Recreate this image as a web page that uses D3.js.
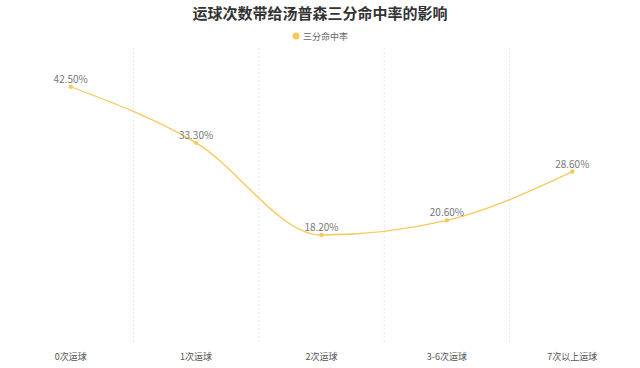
<!DOCTYPE html>
<html>
<head>
<meta charset="utf-8">
<script src="https://cdn.jsdelivr.net/npm/d3@7/dist/d3.min.js"></script>
<style>
  body { margin: 0; background: #fff; }
  svg { display: block; font-family: "Noto Sans CJK SC", "Noto Sans", sans-serif; }
</style>
</head>
<body>
<script>
"use strict";

// data
var categories = ["0次运球", "1次运球", "2次运球", "3-6次运球", "7次以上运球"];
var rates = [42.5, 33.3, 18.2, 20.6, 28.6];
var seriesName = "三分命中率";
var title = "运球次数带给汤普森三分命中率的影响";

var width = 640, height = 368;
var margin = {top: 41, right: 5, bottom: 22, left: 8};
var gridTop = 48, gridBottom = 344;
var lineColor = "#f7c95c";

var svg = d3.select("body").append("svg")
    .attr("width", width)
    .attr("height", height);

var x = d3.scaleBand()
    .domain(categories)
    .range([margin.left, width - margin.right]);

var y = d3.scaleLinear()
    .domain([0, 50])
    .range([height - margin.bottom, margin.top]);

// title
svg.append("text")
    .attr("x", width / 2)
    .attr("y", 19)
    .attr("text-anchor", "middle")
    .attr("font-size", 15)
    .attr("font-weight", "bold")
    .attr("fill", "#333")
    .text(title);

// legend
var lg = svg.append("g").attr("transform", "translate(296,36)");
lg.append("circle").attr("r", 3.5).attr("fill", lineColor);
lg.append("text")
    .attr("x", 7).attr("y", 3.5)
    .attr("font-size", 9)
    .attr("fill", "#666")
    .text(seriesName);

// vertical dashed grid lines between categories
svg.append("g")
  .selectAll("line")
  .data(categories.slice(1))
  .enter().append("line")
    .attr("x1", d => x(d))
    .attr("x2", d => x(d))
    .attr("y1", gridTop)
    .attr("y2", gridBottom)
    .attr("stroke", "#e8e8e8")
    .attr("stroke-dasharray", "2,2");

// x axis labels
svg.append("g")
  .selectAll("text")
  .data(categories)
  .enter().append("text")
    .attr("x", d => x(d) + x.bandwidth() / 2)
    .attr("y", height - 8)
    .attr("text-anchor", "middle")
    .attr("font-size", 9)
    .attr("fill", "#555")
    .text(d => d);

var pts = categories.map((c, i) => [x(c) + x.bandwidth() / 2, y(rates[i])]);

svg.append("path")
    .datum(pts)
    .attr("fill", "none")
    .attr("stroke", lineColor)
    .attr("stroke-width", 1.3)
    .attr("d", d3.line().curve(d3.curveMonotoneX));

svg.append("g")
  .selectAll("circle")
  .data(pts)
  .enter().append("circle")
    .attr("cx", d => d[0])
    .attr("cy", d => d[1])
    .attr("r", 2.2)
    .attr("fill", lineColor);

svg.append("g")
  .selectAll("text")
  .data(rates)
  .enter().append("text")
    .attr("x", (d, i) => pts[i][0])
    .attr("y", (d, i) => pts[i][1] - 4)
    .attr("text-anchor", "middle")
    .attr("font-size", 10)
    .attr("fill", "#777")
    .text(d => d.toFixed(2) + "%");
</script>
</body>
</html>
